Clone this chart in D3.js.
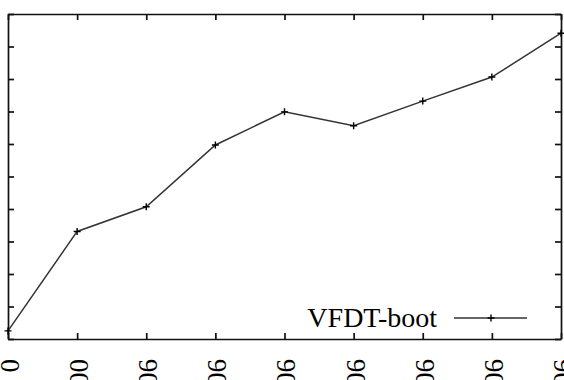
<!DOCTYPE html>
<html>
<head>
<meta charset="utf-8">
<script src="https://cdn.jsdelivr.net/npm/d3@7"></script>
<style>
  body { margin: 0; background: #fff; }
  svg { display: block; }
  .tick text { font-family: "Liberation Serif", "Times New Roman", serif; }
</style>
</head>
<body>
<div class="container"></div>
<script>
/********** the Data **********/
// training examples seen (x) and the measured value (y, in tick units)
let examples = [0, 500000, 1000000, 1500000, 2000000, 2500000, 3000000, 3500000, 4000000];
let vfdtBoot = [0.25, 3.31, 4.07, 5.97, 6.99, 6.56, 7.32, 8.06, 9.41];

let xTicks = [0, 500000, 1000000, 1500000, 2000000, 2500000, 3000000, 3500000, 4000000];
let xTickLabels = ["0", "500000", "1e+06", "1.5e+06", "2e+06", "2.5e+06", "3e+06", "3.5e+06", "4e+06"];
let yTicks = [0, 1, 2, 3, 4, 5, 6, 7, 8, 9, 10];
let seriesName = "VFDT-boot";

/********** drawChart **********/
function drawChart() {
  let width = 564, height = 380;
  // plot frame (left / top edges of the reference are cropped)
  let plot = {left: 8, right: 561, top: 14, bottom: 339};
  let tick = 6;

  let xScale = d3.scaleLinear()
    .domain([0, 4000000])
    .range([plot.left, plot.right]);

  let yScale = d3.scaleLinear()
    .domain([0, 10])
    .range([plot.bottom, plot.top]);

  let svg = d3.select(".container")
    .append("svg")
      .attr("width", width)
      .attr("height", height);

  /* frame + inward ticks on all four sides */
  let bottomAxis = svg.append("g")
    .attr("class", "x-axis")
    .attr("transform", `translate(0, ${plot.bottom})`)
    .call(d3.axisBottom(xScale)
      .tickValues(xTicks)
      .tickSizeInner(-tick)
      .tickSizeOuter(0)
      .tickPadding(0)
      .tickFormat((d, i) => xTickLabels[i]));

  svg.append("g")
    .attr("transform", `translate(0, ${plot.top})`)
    .call(d3.axisTop(xScale).tickValues(xTicks).tickSizeInner(-tick).tickSizeOuter(0).tickFormat(""));

  svg.append("g")
    .attr("transform", `translate(${plot.left}, 0)`)
    .call(d3.axisLeft(yScale).tickValues(yTicks).tickSizeInner(-tick).tickSizeOuter(0).tickFormat(""));

  svg.append("g")
    .attr("transform", `translate(${plot.right}, 0)`)
    .call(d3.axisRight(yScale).tickValues(yTicks).tickSizeInner(-tick).tickSizeOuter(0).tickFormat(""));

  svg.selectAll(".domain, .tick line")
    .attr("stroke", "#111")
    .attr("stroke-width", 1.7);

  // rotated x labels, reading upward, end of text just under the axis
  bottomAxis.selectAll(".tick text")
    .attr("transform", "translate(1, 20) rotate(-90)")
    .attr("x", 0)
    .attr("y", 0)
    .attr("dy", "0.35em")
    .attr("text-anchor", "end")
    .attr("font-size", 27)
    .attr("fill", "#000");

  /* the series */
  let pts = examples.map((x, i) => [xScale(x), yScale(vfdtBoot[i])]);

  svg.append("path")
    .datum(pts)
    .attr("fill", "none")
    .attr("stroke", "#333")
    .attr("stroke-width", 1.5)
    .attr("d", d3.line());

  svg.selectAll(".pt")
    .data(pts)
    .join("path")
      .attr("class", "pt")
      .attr("transform", d => `translate(${d[0]}, ${d[1]})`)
      .attr("d", "M-3.5,0H3.5M0,-3.5V3.5")
      .attr("stroke", "#000")
      .attr("stroke-width", 1.4);

  /* legend */
  let legend = svg.append("g").attr("class", "legend");
  legend.append("text")
    .attr("x", 437)
    .attr("y", 327)
    .attr("text-anchor", "end")
    .attr("font-family", "'Liberation Serif', 'Times New Roman', serif")
    .attr("font-size", 28)
    .attr("fill", "#000")
    .text(seriesName);
  legend.append("line")
    .attr("x1", 454).attr("x2", 527)
    .attr("y1", 318).attr("y2", 318)
    .attr("stroke", "#333")
    .attr("stroke-width", 1.5);
  legend.append("path")
    .attr("transform", "translate(491, 318)")
    .attr("d", "M-3.5,0H3.5M0,-3.5V3.5")
    .attr("stroke", "#000")
    .attr("stroke-width", 1.4);
}

drawChart();
</script>
</body>
</html>
